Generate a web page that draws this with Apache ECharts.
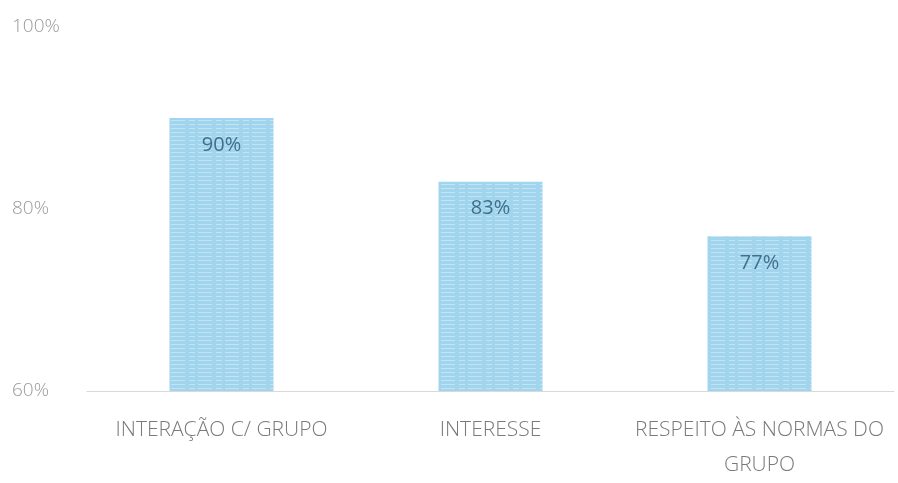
<!DOCTYPE html>
<html>
<head>
<meta charset="utf-8">
<script src="https://cdn.jsdelivr.net/npm/echarts@6/dist/echarts.min.js"></script>
<style>
html,body{margin:0;padding:0;background:#fff;}
#chart{width:898px;height:483px;}
</style>
</head>
<body>
<div id="chart"></div>
<script>
var categories = ['INTERAÇÃO C/ GRUPO', 'INTERESSE', 'RESPEITO ÀS NORMAS DO\nGRUPO'];
var values = [90, 83, 77];
var yTicks = { min: 60, max: 100, interval: 20 };

var chart = echarts.init(document.getElementById('chart'), null, { renderer: 'canvas' });
chart.setOption({
  animation: false,
  backgroundColor: '#ffffff',
  grid: { left: 87, right: 4, top: 27, bottom: 80, containLabel: false },
  xAxis: {
    type: 'category',
    data: categories,
    axisLine: { show: true, lineStyle: { color: '#d9d9d9', width: 1 } },
    axisTick: { show: false },
    axisLabel: {
      color: '#7a7a7a',
      fontFamily: 'Open Sans',
      fontWeight: 300,
      fontSize: 21,
      lineHeight: 35,
      margin: 22,
      interval: 0
    }
  },
  yAxis: {
    type: 'value',
    min: yTicks.min,
    max: yTicks.max,
    interval: yTicks.interval,
    axisLine: { show: false },
    axisTick: { show: false },
    splitLine: { show: false },
    axisLabel: {
      formatter: '{value}%',
      color: '#9a9a9a',
      fontFamily: 'Open Sans',
      fontWeight: 300,
      fontSize: 19,
      align: 'left',
      margin: 75
    }
  },
  series: [{
    type: 'bar',
    data: values,
    barWidth: 104,
    itemStyle: {
      color: '#a0d5ed',
      decal: {
        symbol: 'rect',
        symbolSize: 1,
        dashArrayX: [[6, 3, 14, 4]],
        dashArrayY: [1, 3],
        rotation: 0,
        color: 'rgba(255,255,255,0.35)'
      }
    },
    label: {
      show: true,
      position: 'insideTop',
      distance: 17,
      formatter: '{c}%',
      color: '#3f6f8e',
      fontFamily: 'Open Sans',
      fontSize: 20
    }
  }]
});
</script>
</body>
</html>
